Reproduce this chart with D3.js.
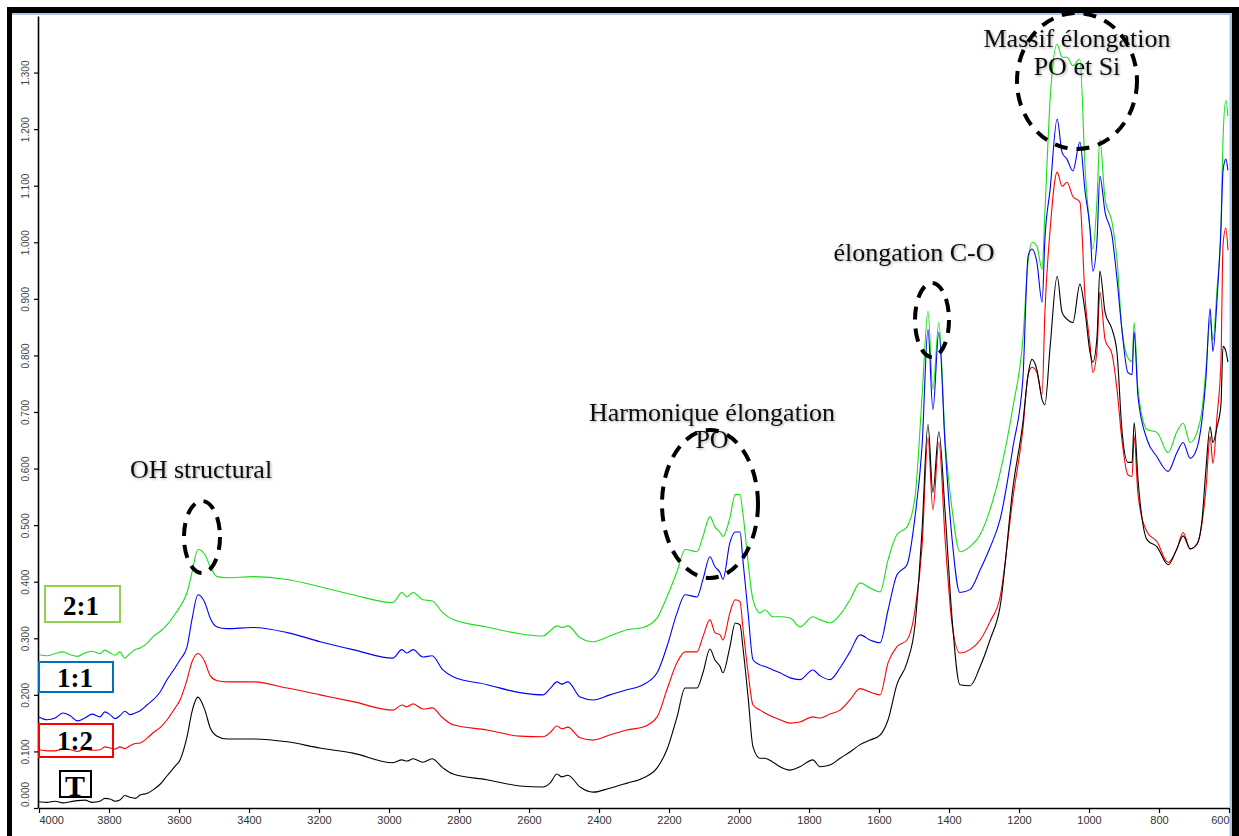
<!DOCTYPE html>
<html><head><meta charset="utf-8">
<script src="https://cdn.jsdelivr.net/npm/d3@7"></script>
<style>body{margin:0;background:#fff;overflow:hidden}</style>
</head><body><svg id="c" width="1239" height="836"></svg>
<script>
// ---- data (wavenumber cm-1, absorbance) ----
const wavenumbers = [
4000,3977,3954,3932,3911,3890,3869,3848,3826,3812,3797,3783,3769,3755,3740,3725,3711,3690,3674,
3654,3634,3611,3597,3577,3563,3546,3526,3511,3491,
3463,3389,3291,3197,3103,2989,2963,2949,2931,2903,
2877,2846,2817,2720,2626,2560,2540,2520,2506,2489,
2454,2417,2369,2320,2274,2234,2206,2177,2154,2120,
2103,2083,2069,2054,2046,2026,2011,1997,1989,1974,
1960,1940,1926,1903,1883,1854,1826,1789,1769,1740,
1711,1683,1654,1626,1597,1574,1549,1520,1497,1477,
1460,1446,1429,1411,1391,1369,1340,1311,1283,1254,
1217,1189,1174,1163,1149,1134,1126,1111,1091,1077,
1063,1046,1026,1011,997,989,977,969,954,934,
920,906,889,877,871,860,834,806,774,749,
731,711,691,677,666,654,646,634,623,617,
609,603];
const absT = [
.011,.010,.012,.009,.011,.013,.014,.010,.012,.017,.016,.012,.014,.022,.019,.017,.023,.026,.032,
.042,.057,.074,.085,.126,.170,.196,.173,.142,.127,
.122,.122,.117,.106,.097,.080,.085,.083,.087,.081,
.087,.071,.060,.050,.039,.037,.044,.060,.055,.058,
.037,.028,.035,.044,.053,.071,.103,.161,.212,.212,
.239,.281,.262,.250,.239,.285,.327,.324,.285,.196,
.108,.088,.088,.081,.073,.067,.073,.085,.073,.076,
.088,.099,.112,.120,.129,.156,.218,.257,.324,.492,
.678,.558,.665,.522,.333,.218,.216,.250,.297,.356,
.568,.681,.766,.793,.775,.722,.713,.816,.940,.876,
.864,.858,.926,.876,.805,.788,.834,.949,.876,.846,
.805,.669,.611,.611,.681,.581,.474,.462,.430,.458,
.481,.458,.467,.510,.598,.674,.646,.674,.713,.816,
.807,.788];
const abs12 = [
.103,.101,.101,.104,.103,.100,.104,.102,.103,.108,.106,.104,.108,.105,.110,.114,.115,.124,.133,
.142,.156,.177,.191,.227,.258,.273,.258,.234,.225,
.223,.223,.212,.200,.188,.173,.182,.179,.184,.175,
.177,.159,.147,.138,.127,.126,.133,.145,.140,.143,
.124,.120,.129,.138,.143,.161,.209,.257,.276,.276,
.303,.333,.310,.306,.297,.345,.368,.365,.320,.239,
.182,.173,.168,.161,.156,.150,.152,.161,.159,.166,
.173,.191,.211,.205,.200,.257,.285,.297,.350,.462,
.655,.527,.646,.474,.324,.274,.280,.297,.329,.373,
.550,.669,.765,.779,.770,.731,.876,1.023,1.124,1.099,
1.106,1.081,1.071,.899,.819,.770,.811,.912,.828,.802,
.740,.651,.589,.586,.657,.554,.488,.471,.434,.458,
.487,.458,.467,.504,.563,.657,.609,.694,.788,.996,
1.025,.986];
const abs11 = [
.161,.156,.159,.168,.163,.154,.159,.166,.161,.170,.165,.158,.163,.171,.165,.168,.172,.183,.191,
.205,.227,.248,.262,.285,.333,.377,.363,.336,.320,
.317,.319,.310,.294,.280,.265,.280,.274,.280,.267,
.269,.244,.232,.218,.204,.200,.211,.223,.219,.223,
.196,.191,.200,.209,.218,.239,.285,.345,.377,.373,
.404,.444,.427,.416,.404,.469,.488,.488,.439,.345,
.262,.253,.250,.244,.239,.230,.227,.244,.234,.227,
.248,.276,.306,.297,.292,.350,.412,.430,.515,.639,
.846,.704,.841,.639,.474,.381,.386,.421,.460,.510,
.639,.758,.975,.988,.965,.894,1.005,1.094,1.218,1.159,
1.147,1.126,1.177,1.088,1.023,.949,1.005,1.117,1.053,1.011,
.935,.846,.770,.766,.841,.727,.651,.621,.595,.628,
.646,.618,.637,.687,.758,.883,.807,.901,1.025,1.127,
1.147,1.127];
const abs21 = [
.271,.269,.273,.276,.271,.268,.274,.277,.273,.279,.274,.270,.276,.265,.273,.280,.283,.292,.303,
.312,.324,.343,.356,.381,.416,.457,.448,.427,.409,
.407,.409,.404,.391,.377,.363,.381,.373,.381,.368,
.366,.345,.333,.320,.308,.304,.313,.322,.319,.322,
.301,.294,.304,.315,.319,.336,.373,.418,.457,.453,
.480,.515,.497,.487,.480,.513,.554,.554,.522,.434,
.368,.345,.350,.338,.338,.336,.320,.338,.333,.327,
.342,.368,.398,.389,.382,.439,.483,.497,.550,.727,
.878,.740,.858,.651,.527,.453,.462,.483,.527,.593,
.710,.828,.966,1.000,.993,.952,1.053,1.253,1.350,1.327,
1.327,1.312,1.324,1.129,1.023,.988,1.076,1.182,1.076,1.035,
.970,.846,.796,.789,.858,.740,.669,.664,.628,.665,
.680,.646,.665,.704,.775,.864,.827,.920,1.025,1.184,
1.251,1.223];
const seriesNames = ["2:1","1:1","1:2","T"];
const xTickValues = [4000,3800,3600,3400,3200,3000,2800,2600,2400,2200,2000,1800,1600,1400,1200,1000,800,600];
const yTickValues = [0,0.1,0.2,0.3,0.4,0.5,0.6,0.7,0.8,0.9,1.0,1.1,1.2,1.3];
const annotationTexts = [["OH structural"],["Harmonique élongation","PO"],["élongation C-O"],["Massif élongation","PO et Si"]];

// ---- drawing ----
const svg = d3.select("#c");
const x = d3.scaleLinear().domain([4000, 600]).range([39, 1229]);
const y = d3.scaleLinear().domain([0, 1.4]).range([808, 16]);

const defs = svg.append("defs");
const f = defs.append("filter").attr("id","glow").attr("x","-10%").attr("y","-30%").attr("width","120%").attr("height","160%");
f.append("feGaussianBlur").attr("in","SourceAlpha").attr("stdDeviation",1.6).attr("result","b");
f.append("feOffset").attr("in","b").attr("dx",1).attr("dy",1).attr("result","o");
f.append("feComponentTransfer").attr("in","o").attr("result","s").append("feFuncA").attr("type","linear").attr("slope",0.35);
const fm = f.append("feMerge"); fm.append("feMergeNode").attr("in","s"); fm.append("feMergeNode").attr("in","SourceGraphic");

// frame
svg.append("rect").attr("x",0).attr("y",0).attr("width",1239).attr("height",836).attr("fill","#fff");
svg.append("rect").attr("x",7).attr("y",7).attr("width",1232).attr("height",6).attr("fill","#000");
svg.append("rect").attr("x",7).attr("y",7).attr("width",5).attr("height",829).attr("fill","#000");
svg.append("rect").attr("x",1232).attr("y",7).attr("width",7).attr("height",829).attr("fill","#000");
svg.append("rect").attr("x",12).attr("y",13).attr("width",1220).attr("height",2).attr("fill","#a9c6e6");
svg.append("rect").attr("x",1229.5).attr("y",13).attr("width",2.5).attr("height",823).attr("fill","#a9c6e6");

// axes
const xAxis = d3.axisBottom(x).tickValues(xTickValues).tickSize(5).tickSizeOuter(0).tickFormat(d3.format("d"));
const gx = svg.append("g").attr("transform","translate(0,808)").call(xAxis);
gx.select(".domain").attr("stroke","#000").attr("stroke-width",1.6);
gx.selectAll(".tick line").attr("stroke","#000").attr("stroke-width",1.2);
gx.selectAll(".tick text").attr("font-family","Arial, 'Liberation Sans', sans-serif").attr("font-size",11).attr("fill","#333").attr("dy","0.9em").attr("y",6);
gx.selectAll(".tick text").filter(d => d === 4000).attr("text-anchor","start");
gx.selectAll(".tick text").filter(d => d === 600).attr("text-anchor","end");

const yAxis = d3.axisLeft(y).tickValues(yTickValues).tickSize(4).tickSizeOuter(0).tickFormat(d3.format(".3f"));
const gy = svg.append("g").attr("transform","translate(38,0)").call(yAxis);
gy.select(".domain").attr("stroke","#000").attr("stroke-width",1.6);
gy.selectAll(".tick line").attr("stroke","#000").attr("stroke-width",1.2);
gy.selectAll(".tick text").attr("font-family","Arial, 'Liberation Sans', sans-serif").attr("font-size",10).attr("fill","#444")
  .attr("x",0).attr("dy",0).attr("text-anchor","middle")
  .attr("transform", d => "translate(-9," + (d === 0 ? -14 : 0) + ") rotate(-90)");

// spectra
const colors = {"2:1":"#18e018","1:1":"#0000ff","1:2":"#ff0000","T":"#000000"};
const valuesBy = {"2:1":abs21,"1:1":abs11,"1:2":abs12,"T":absT};
const line = d3.line().curve(d3.curveMonotoneX).x(d => x(d[0])).y(d => y(d[1]));
seriesNames.forEach(name => {
  const pts = wavenumbers.map((w,i) => [w, valuesBy[name][i]]);
  svg.append("path").datum(pts).attr("d", line).attr("fill","none")
    .attr("stroke", colors[name]).attr("stroke-width",1.1).attr("stroke-linejoin","round");
});

// annotations
const serif = "'Liberation Serif','Times New Roman',serif";
const ann = svg.append("g").attr("font-family",serif).attr("font-size",26).attr("fill","#111").attr("text-anchor","middle").attr("filter","url(#glow)");
const annPos = [[201,[478]],[712,[421,448]],[914,[261]],[1077,[47,75]]];
annotationTexts.forEach((lines,i) => {
  lines.forEach((t,j) => ann.append("text").attr("x",annPos[i][0]).attr("y",annPos[i][1][j]).text(t));
});

// dashed ellipses
const ell = [[202,537,18,36],[710,504,48,74],[932,320,17,37],[1077,81,60,68]];
svg.append("g").selectAll("ellipse").data(ell).join("ellipse")
  .attr("cx",d=>d[0]).attr("cy",d=>d[1]).attr("rx",d=>d[2]).attr("ry",d=>d[3])
  .attr("fill","none").attr("stroke","#000").attr("stroke-width",4).attr("stroke-dasharray","13,9");

// legend boxes
const legend = [["2:1","#92d050",45,586,75,36,81,615,27],["1:1","#0070c0",39,662,74,30,75,687,27],["1:2","#ff0000",39,724,74,33,75,750,27],["T","#000000",60,771,31,26,75,796,30]];
const lg = svg.append("g");
legend.forEach(l => {
  lg.append("rect").attr("x",l[2]).attr("y",l[3]).attr("width",l[4]).attr("height",l[5]).attr("fill","none").attr("stroke",l[1]).attr("stroke-width",2);
  lg.append("text").attr("x",l[6]).attr("y",l[7]).attr("text-anchor","middle").attr("font-family",serif).attr("font-weight","bold").attr("font-size",l[8]).attr("fill","#000").text(l[0]);
});
</script></body></html>
